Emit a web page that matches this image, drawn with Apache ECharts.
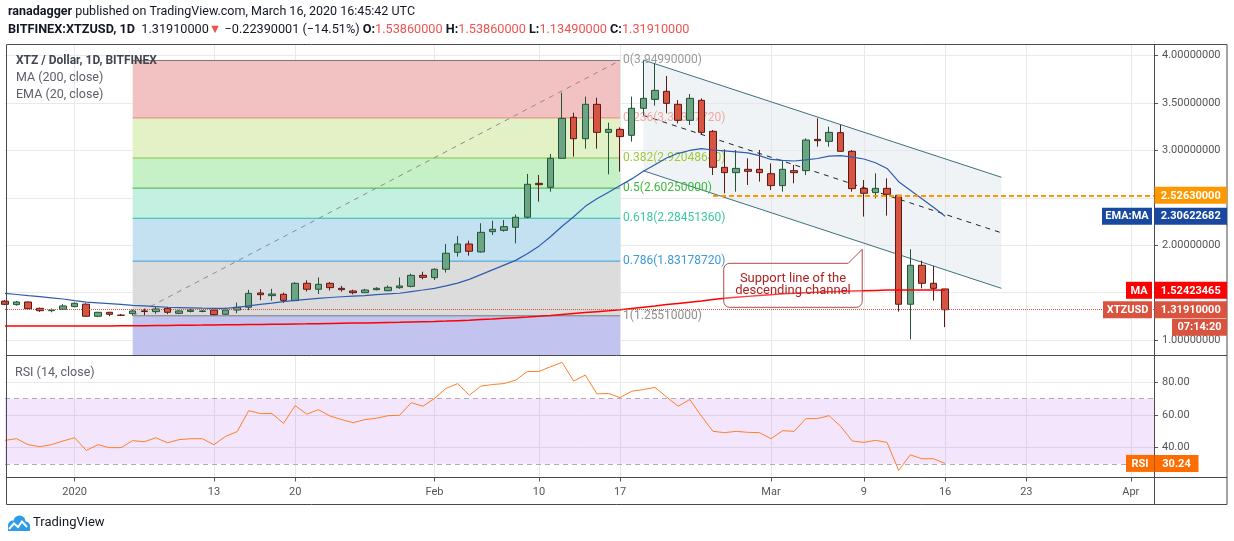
<!DOCTYPE html>
<html>
<head>
<meta charset="utf-8">
<title>XTZ / Dollar, 1D, BITFINEX</title>
<script src="https://cdn.jsdelivr.net/npm/echarts@6.0.0/dist/echarts.min.js"></script>
<style>
  html, body { margin: 0; padding: 0; background: #ffffff; }
  #chart { width: 1234px; height: 541px; }
</style>
</head>
<body>
<div id="chart"></div>
<script>
const FONT = 'Roboto, "Liberation Sans", Arial, sans-serif';

// one category per day, Dec 26 2019 .. Apr 3 2020
const dates = [];
for (let i = 0; i < 100; i++) {
  dates.push(new Date(Date.UTC(2019, 11, 26 + i)).toISOString().slice(0, 10));
}
const tickDates = ['2020-01-01', '2020-01-13', '2020-01-20', '2020-02-01', '2020-02-10', '2020-02-17',
  '2020-03-01', '2020-03-09', '2020-03-16', '2020-03-23', '2020-04-01'];
const tickTexts = ['2020', '13', '20', 'Feb', '10', '17', 'Mar', '9', '16', '23', 'Apr'];

// [open, close, low, high], Dec 26 .. Mar 16
const candles = [
  [1.410, 1.376, 1.368, 1.420], [1.373, 1.401, 1.362, 1.412], [1.401, 1.330, 1.325, 1.406],
  [1.334, 1.309, 1.296, 1.342], [1.309, 1.316, 1.292, 1.333], [1.323, 1.359, 1.316, 1.378],
  [1.352, 1.387, 1.345, 1.396], [1.378, 1.250, 1.246, 1.386], [1.250, 1.292, 1.241, 1.296],
  [1.292, 1.271, 1.250, 1.296], [1.262, 1.260, 1.255, 1.275], [1.278, 1.306, 1.258, 1.320],
  [1.306, 1.300, 1.262, 1.330], [1.299, 1.327, 1.275, 1.350], [1.334, 1.292, 1.272, 1.350],
  [1.281, 1.306, 1.272, 1.315], [1.301, 1.316, 1.290, 1.330], [1.301, 1.306, 1.292, 1.316],
  [1.316, 1.267, 1.262, 1.320], [1.271, 1.316, 1.265, 1.340], [1.316, 1.345, 1.282, 1.395],
  [1.345, 1.492, 1.315, 1.530], [1.496, 1.478, 1.420, 1.535], [1.468, 1.485, 1.415, 1.540],
  [1.482, 1.418, 1.392, 1.500], [1.415, 1.598, 1.410, 1.610], [1.598, 1.535, 1.512, 1.630],
  [1.535, 1.587, 1.485, 1.660], [1.598, 1.552, 1.522, 1.612], [1.545, 1.531, 1.510, 1.570],
  [1.517, 1.499, 1.482, 1.530], [1.499, 1.527, 1.495, 1.540], [1.531, 1.545, 1.522, 1.556],
  [1.520, 1.556, 1.515, 1.575], [1.552, 1.570, 1.540, 1.660], [1.566, 1.682, 1.555, 1.700],
  [1.682, 1.661, 1.640, 1.720], [1.658, 1.746, 1.633, 1.756], [1.746, 1.915, 1.711, 2.013],
  [1.925, 2.013, 1.879, 2.098], [2.013, 1.936, 1.890, 2.048], [1.929, 2.136, 1.922, 2.231],
  [2.143, 2.168, 2.108, 2.259], [2.157, 2.196, 2.143, 2.266], [2.189, 2.295, 2.020, 2.323],
  [2.295, 2.643, 2.284, 2.752], [2.653, 2.639, 2.460, 2.741], [2.611, 2.917, 2.565, 2.963],
  [2.917, 3.339, 2.917, 3.610], [3.350, 3.124, 2.935, 3.399], [3.124, 3.487, 3.019, 3.568],
  [3.487, 3.191, 3.019, 3.557], [3.191, 3.223, 2.748, 3.293], [3.223, 3.146, 2.776, 3.244],
  [3.160, 3.445, 3.093, 3.568], [3.445, 3.550, 3.374, 3.950], [3.539, 3.634, 3.473, 3.919],
  [3.624, 3.497, 3.392, 3.786], [3.487, 3.318, 3.286, 3.532], [3.318, 3.550, 3.269, 3.596],
  [3.529, 3.191, 3.163, 3.550], [3.202, 2.822, 2.741, 3.216], [2.822, 2.766, 2.548, 3.012],
  [2.766, 2.811, 2.565, 3.005], [2.801, 2.780, 2.636, 2.917], [2.801, 2.766, 2.671, 3.005],
  [2.755, 2.629, 2.583, 2.864], [2.629, 2.801, 2.565, 2.899], [2.787, 2.766, 2.653, 2.847],
  [2.787, 3.110, 2.741, 3.128], [3.117, 3.103, 3.040, 3.339], [3.096, 3.191, 3.040, 3.251],
  [3.188, 2.991, 2.987, 3.269], [2.991, 2.597, 2.565, 3.005], [2.600, 2.548, 2.302, 2.688],
  [2.555, 2.600, 2.495, 2.759], [2.600, 2.537, 2.312, 2.706], [2.527, 1.377, 1.299, 2.527],
  [1.377, 1.788, 1.007, 1.957], [1.788, 1.598, 1.545, 1.837], [1.598, 1.545, 1.415, 1.781],
  [1.5386, 1.3191, 1.1349, 1.5386]
];

const ma200 = [
  1.148, 1.148, 1.148, 1.148, 1.148, 1.148, 1.148, 1.148, 1.148, 1.148,
  1.149, 1.150, 1.151, 1.152, 1.153, 1.155, 1.156, 1.157, 1.159, 1.160,
  1.161, 1.163, 1.164, 1.166, 1.167, 1.169, 1.170, 1.172, 1.174, 1.176,
  1.178, 1.180, 1.182, 1.184, 1.186, 1.189, 1.192, 1.195, 1.199, 1.204,
  1.209, 1.215, 1.221, 1.228, 1.235, 1.242, 1.250, 1.259, 1.269, 1.279,
  1.289, 1.299, 1.309, 1.320, 1.333, 1.346, 1.359, 1.373, 1.386, 1.399,
  1.412, 1.426, 1.440, 1.450, 1.460, 1.469, 1.478, 1.487, 1.494, 1.499,
  1.504, 1.508, 1.512, 1.516, 1.520, 1.523, 1.526, 1.528, 1.528, 1.527,
  1.526, 1.524
];

const ema20 = [
  1.492, 1.480, 1.468, 1.457, 1.445, 1.432, 1.415, 1.400, 1.392, 1.384,
  1.375, 1.366, 1.359, 1.352, 1.345, 1.342, 1.339, 1.336, 1.334, 1.334,
  1.343, 1.360, 1.375, 1.389, 1.405, 1.418, 1.428, 1.438, 1.448, 1.456,
  1.462, 1.468, 1.478, 1.487, 1.493, 1.511, 1.527, 1.545, 1.570, 1.600,
  1.640, 1.690, 1.740, 1.790, 1.840, 1.910, 1.990, 2.090, 2.200, 2.300,
  2.410, 2.490, 2.560, 2.630, 2.700, 2.780, 2.850, 2.920, 2.970, 3.000,
  3.020, 3.005, 2.995, 2.985, 2.975, 2.945, 2.905, 2.895, 2.889, 2.900,
  2.915, 2.940, 2.945, 2.930, 2.910, 2.870, 2.810, 2.670, 2.580, 2.490,
  2.400, 2.306
];

const rsi14 = [
  44.4, 45.4, 41.7, 40.5, 41.7, 44.0, 46.0, 38.2, 41.7, 39.9,
  39.9, 44.2, 43.5, 46.0, 42.9, 44.8, 45.4, 45.4, 41.7, 46.8,
  49.7, 62.6, 60.8, 60.8, 54.8, 65.7, 60.4, 63.2, 59.3, 57.1,
  55.2, 57.1, 57.9, 59.5, 59.7, 67.5, 65.3, 70.0, 76.2, 79.2,
  72.1, 77.6, 78.6, 79.2, 81.3, 86.6, 86.6, 89.5, 92.2, 80.7,
  84.4, 72.9, 73.1, 70.6, 74.5, 75.5, 76.8, 71.0, 65.3, 69.4,
  59.3, 49.9, 49.1, 49.9, 49.3, 49.1, 45.4, 50.3, 49.9, 57.7,
  57.7, 59.5, 53.0, 44.0, 43.1, 44.4, 43.1, 25.9, 35.5, 33.1,
  33.1, 30.24
];

const priceTicks = [1, 1.5, 2, 2.5, 3, 3.5, 4];
const priceLabels = [1, 2, 3, 3.5, 4];
const rsiTicks = [40, 60, 80];
const rsiBand = [30, 70];
const priceMin = 0.836, priceMax = 4.113;
const rsiMin = 21.6, rsiMax = 96.4;

const lastPrice = 1.3191;
const lastMa = 1.52423465;
const lastEma = 2.30622682;
const lastRsi = 30.24;
const level = 2.5263;
const levelFrom = '2020-02-25';

// fibonacci retracement
const fibFrom = '2020-01-06', fibTo = '2020-02-17';
const fibRatios = ['0', '0.236', '0.382', '0.5', '0.618', '0.786', '1'];
const fibPrices = [3.9499, 3.3432772, 2.9204864, 2.6025, 2.2845136, 1.8317872, 1.2551];
const fibLine = ['#787878', '#e58a78', '#8bc34a', '#43b143', '#26c0a0', '#3a99d8', '#787878'];
const fibFill = ['#f2c2c2', '#e3f1c7', '#c6f0c6', '#c4f0e1', '#c4e1f2', '#dcdcdc', '#c3c3ef'];
const fibText = ['#9a9a9a', '#f0a8a0', '#9ccc3c', '#3cb93c', '#3ccaa0', '#3d9ad8', '#8e8e8e'];

// descending channel: [category index, price]
const channelStart = 55;
const channelEnd = 85.85;
const channelTop = [3.955, 2.717];
const channelBottom = [2.786, 1.545];

// callout top-right corner [category index, price]
const calloutAt = [73.86, 1.809];

const chart = echarts.init(document.getElementById('chart'));

const isTick = (i, v) => tickDates.indexOf(v) >= 0;
const gridLine = '#e9e9e9';
const fibFromIdx = dates.indexOf(fibFrom);
const fibToIdx = dates.indexOf(fibTo);

// category coords are rounded by the scale, so interpolate between neighbours
function coordAt(api, idx, v) {
  const i0 = Math.floor(idx), f = idx - i0;
  const a = api.coord([i0, v]);
  const b = api.coord([i0 + 1, v]);
  return [a[0] + f * (b[0] - a[0]), a[1]];
}

function renderFib(params, api) {
  const k = params.dataIndex;
  const top = fibPrices[k];
  const bottom = k + 1 < fibPrices.length ? fibPrices[k + 1] : priceMin;
  const a = api.coord([fibFromIdx, top]);
  const b = api.coord([fibToIdx, bottom]);
  const children = [
    { type: 'rect', shape: { x: a[0], y: a[1], width: b[0] - a[0], height: b[1] - a[1] }, style: { fill: fibFill[k] } },
    { type: 'line', shape: { x1: a[0], y1: a[1], x2: b[0], y2: a[1] }, style: { stroke: fibLine[k], lineWidth: 1 } },
    {
      type: 'text',
      style: {
        text: fibRatios[k] + '(' + top.toFixed(8) + ')', x: b[0] + 3, y: a[1],
        fill: fibText[k], font: '12px ' + FONT, textVerticalAlign: 'middle'
      }
    }
  ];
  if (k === fibPrices.length - 1) {
    // the trend line of the retracement, low to high
    const f0 = api.coord([fibFromIdx, fibPrices[k]]);
    const f1 = api.coord([fibToIdx, fibPrices[0]]);
    children.push({
      type: 'line', shape: { x1: f0[0], y1: f0[1], x2: f1[0], y2: f1[1] },
      style: { stroke: '#8c8c8c', lineWidth: 1, lineDash: [5, 5] }
    });
  }
  return { type: 'group', children };
}

function renderChannel(params, api) {
  const t0 = coordAt(api, channelStart, channelTop[0]);
  const t1 = coordAt(api, channelEnd, channelTop[1]);
  const b0 = coordAt(api, channelStart, channelBottom[0]);
  const b1 = coordAt(api, channelEnd, channelBottom[1]);
  const m0 = [t0[0], (t0[1] + b0[1]) / 2];
  const m1 = [t1[0], (t1[1] + b1[1]) / 2];
  return {
    type: 'group',
    children: [
      { type: 'polygon', shape: { points: [t0, t1, b1, b0] }, style: { fill: 'rgba(226,231,238,0.5)' } },
      { type: 'line', shape: { x1: t0[0], y1: t0[1], x2: t1[0], y2: t1[1] }, style: { stroke: '#3b6f7e', lineWidth: 1 } },
      { type: 'line', shape: { x1: b0[0], y1: b0[1], x2: b1[0], y2: b1[1] }, style: { stroke: '#3b6f7e', lineWidth: 1 } },
      { type: 'line', shape: { x1: m0[0], y1: m0[1], x2: m1[0], y2: m1[1] }, style: { stroke: '#222', lineWidth: 1, lineDash: [5, 5] } }
    ]
  };
}

const option = {
  animation: false,
  grid: [
    { left: 5, right: 80, top: 45, height: 310.5 },
    { left: 5, right: 80, top: 355.5, height: 122 }
  ],
  xAxis: [
    {
      type: 'category', gridIndex: 0, data: dates, boundaryGap: false,
      axisLine: { show: false }, axisTick: { show: false }, axisLabel: { show: false },
      splitLine: { show: true, interval: isTick, lineStyle: { color: gridLine } }
    },
    {
      type: 'category', gridIndex: 1, data: dates, boundaryGap: false,
      axisLine: { show: false },
      axisTick: { show: true, interval: isTick, length: 4, lineStyle: { color: '#555' } },
      axisLabel: {
        interval: isTick, formatter: v => tickTexts[tickDates.indexOf(v)],
        color: '#555', fontSize: 11, fontFamily: FONT, margin: 9
      },
      splitLine: { show: true, interval: isTick, lineStyle: { color: gridLine } }
    }
  ],
  yAxis: [
    {
      type: 'value', gridIndex: 0, position: 'right', min: priceMin, max: priceMax,
      axisLine: { show: false },
      axisTick: { show: true, customValues: priceTicks, length: 4, lineStyle: { color: '#555' } },
      axisLabel: {
        customValues: priceLabels, formatter: v => v.toFixed(8),
        color: '#555', fontSize: 11, fontFamily: FONT, margin: 8
      },
      splitLine: { show: true, lineStyle: { color: gridLine } }
    },
    {
      type: 'value', gridIndex: 1, position: 'right', min: rsiMin, max: rsiMax,
      axisLine: { show: false },
      axisTick: { show: true, customValues: rsiTicks, length: 4, lineStyle: { color: '#555' } },
      axisLabel: {
        customValues: rsiTicks, formatter: v => v.toFixed(2),
        color: '#555', fontSize: 11, fontFamily: FONT, margin: 8
      },
      splitLine: { show: true, lineStyle: { color: gridLine } }
    }
  ],
  series: [
    {
      name: 'channel', type: 'custom', xAxisIndex: 0, yAxisIndex: 0, z: 1, silent: true,
      data: [[0]], renderItem: renderChannel
    },
    {
      name: 'fib', type: 'custom', xAxisIndex: 0, yAxisIndex: 0, z: 1, silent: true,
      data: fibRatios.map((r, k) => [k]), renderItem: renderFib
    },
    {
      name: 'XTZUSD', type: 'candlestick', xAxisIndex: 0, yAxisIndex: 0, z: 3,
      barWidth: 7, data: candles, silent: true,
      itemStyle: { color: '#6ba583', color0: '#d75442', borderColor: '#225437', borderColor0: '#5b1a13', borderWidth: 1 },
      markLine: {
        silent: true, symbol: ['none', 'none'], label: { show: false },
        data: [
          { yAxis: lastPrice, lineStyle: { color: '#d9533f', type: 'dotted', width: 1 } },
          [
            { coord: [levelFrom, level], lineStyle: { color: '#ff9800', type: [5, 3], width: 2 } },
            { coord: [dates.length - 1, level], lineStyle: { color: '#ff9800', type: [5, 3], width: 2 } }
          ]
        ]
      }
    },
    {
      name: 'MA', type: 'line', xAxisIndex: 0, yAxisIndex: 0, z: 4, data: ma200,
      symbol: 'none', silent: true, lineStyle: { color: '#ff0000', width: 1.5 }
    },
    {
      name: 'EMA', type: 'line', xAxisIndex: 0, yAxisIndex: 0, z: 4, data: ema20,
      symbol: 'none', silent: true, lineStyle: { color: '#2e5db0', width: 1.2 }
    },
    {
      name: 'RSI', type: 'line', xAxisIndex: 1, yAxisIndex: 1, z: 4, data: rsi14,
      symbol: 'none', silent: true, lineStyle: { color: '#ff7f27', width: 1 },
      markArea: {
        silent: true,
        itemStyle: { color: 'rgba(155,38,230,0.12)' },
        data: [[{ yAxis: rsiBand[0] }, { yAxis: rsiBand[1] }]]
      },
      markLine: {
        silent: true, symbol: ['none', 'none'], label: { show: false },
        lineStyle: { color: '#b5a8bb', type: [5, 4], width: 1 },
        data: [{ yAxis: rsiBand[0] }, { yAxis: rsiBand[1] }]
      }
    }
  ]
};

chart.setOption(option);

// ---- overlays: frame, texts, price tags, callout ----
const W = chart.getWidth();
const axisX = W - 80 + 0.5;
const yP = v => chart.convertToPixel({ yAxisIndex: 0 }, v);
const yR = v => chart.convertToPixel({ yAxisIndex: 1 }, v);
function px(idx, v) {
  const i0 = Math.floor(idx), f = idx - i0;
  const a = chart.convertToPixel({ gridIndex: 0 }, [i0, v]);
  const b = chart.convertToPixel({ gridIndex: 0 }, [i0 + 1, v]);
  return [a[0] + f * (b[0] - a[0]), a[1]];
}

function txt(text, x, y, font, fill, align) {
  return {
    type: 'text', z: 100, silent: true,
    style: { text, x, y, font, fill, textAlign: align || 'left', textVerticalAlign: 'middle' }
  };
}
function box(x, y, w, text, color) {
  return [
    { type: 'rect', z: 100, silent: true, shape: { x, y: y - 8.5, width: w, height: 17 }, style: { fill: color } },
    txt(text, x + w / 2, y + 0.5, 'bold 11px ' + FONT, '#ffffff', 'center')
  ];
}
// quarter circle points for rounded corners
function arc(cx, cy, r, a0, a1) {
  const pts = [];
  for (let s = 0; s <= 4; s++) {
    const a = a0 + (a1 - a0) * s / 4;
    pts.push([cx + r * Math.cos(a), cy + r * Math.sin(a)]);
  }
  return pts;
}

const priceTags = [
  { value: level, text: '2.52630000', color: '#ff9800' },
  { value: lastEma, text: '2.30622682', color: '#1848a0', name: 'EMA:MA', nameWidth: 50 },
  { value: lastMa, text: '1.52423465', color: '#ff0000', name: 'MA', nameWidth: 26 },
  { value: lastPrice, text: '1.31910000', color: '#d9533f', name: 'XTZUSD', nameWidth: 49, sub: '07:14:20' }
];

const graphics = [];
const line = (x1, y1, x2, y2) => ({
  type: 'line', z: 100, silent: true, shape: { x1, y1, x2, y2 }, style: { stroke: '#4a4a4a', lineWidth: 1 }
});
graphics.push({
  type: 'rect', z: 100, silent: true, shape: { x: 6.5, y: 44.5, width: 1220.5, height: 460 },
  style: { fill: null, stroke: '#4a4a4a', lineWidth: 1 }
});
graphics.push(line(6.5, 355.5, 1227, 355.5));
graphics.push(line(6.5, 477.5, 1227, 477.5));
graphics.push(line(axisX, 44.5, axisX, 504.5));

priceTags.forEach(t => {
  const y = yP(t.value);
  graphics.push(...box(axisX, y, 72.5, t.text, t.color));
  if (t.name) graphics.push(...box(axisX - 2.5 - t.nameWidth, y, t.nameWidth, t.name, t.color));
  if (t.sub) graphics.push(...box(axisX + 17.5, y + 17.5, 55, t.sub, t.color));
});
const ry = yR(lastRsi);
graphics.push(...box(axisX, ry, 44, lastRsi.toFixed(2), '#ff6d00'));
graphics.push(...box(axisX - 28.5, ry, 28, 'RSI', '#ff6d00'));

// header
graphics.push({
  type: 'text', z: 100, silent: true,
  style: {
    x: 8, y: 12, textVerticalAlign: 'middle',
    text: '{b|ranadagger}{n| published on TradingView.com, March 16, 2020 16:45:42 UTC}',
    rich: {
      b: { fontWeight: 'bold', fontSize: 12.5, fontFamily: FONT, fill: '#131722' },
      n: { fontSize: 12.5, fontFamily: FONT, fill: '#131722' }
    }
  }
});
graphics.push({
  type: 'text', z: 100, silent: true,
  style: {
    x: 8, y: 30, textVerticalAlign: 'middle',
    text: '{b|BITFINEX:XTZUSD, 1D}{n|  1.31910000}{r|▼}{n| −0.22390001 (−14.51%) }' +
      '{b|O:}{r|1.53860000}{n| }{b|H:}{r|1.53860000}{n| }{b|L:}{r|1.13490000}{n| }{b|C:}{r|1.31910000}',
    rich: {
      b: { fontWeight: 'bold', fontSize: 12.7, fontFamily: FONT, fill: '#131722' },
      n: { fontSize: 12.7, fontFamily: FONT, fill: '#131722' },
      r: { fontSize: 12.7, fontFamily: FONT, fill: '#ef5350' }
    }
  }
});

// pane legends
graphics.push(txt('XTZ / Dollar, 1D, BITFINEX', 16, 60.5, 'bold 12px ' + FONT, '#434651'));
graphics.push(txt('MA (200, close)', 16, 77.5, '12.5px ' + FONT, '#5d606b'));
graphics.push(txt('EMA (20, close)', 16, 94.5, '12.5px ' + FONT, '#5d606b'));
graphics.push(txt('RSI (14, close)', 15, 373, '12.5px ' + FONT, '#5d606b'));

// callout
const c = px(calloutAt[0], calloutAt[1]);
const x1 = c[0], y0 = c[1], x0 = x1 - 138.5, y1 = y0 + 44, r = 6;
const H = Math.PI / 2;
const callout = [[x0 + r, y0], [x1 - 14, y0], [x1, y0 - 14]]
  .concat(arc(x1 - r, y1 - r, r, 0, H))
  .concat(arc(x0 + r, y1 - r, r, H, 2 * H))
  .concat(arc(x0 + r, y0 + r, r, 2 * H, 3 * H));
graphics.push({
  type: 'polygon', z: 100, silent: true, shape: { points: callout },
  style: { fill: 'rgba(255,255,255,0.25)', stroke: '#b24646', lineWidth: 1 }
});
graphics.push(txt('Support line of the', (x0 + x1) / 2, y0 + 15.5, '13px ' + FONT, '#b22222', 'center'));
graphics.push(txt('descending channel', (x0 + x1) / 2, y0 + 27, '13px ' + FONT, '#b22222', 'center'));

// TradingView mark
const logoBlue = '#2f9ce8';
graphics.push({ type: 'circle', z: 100, silent: true, shape: { cx: 13, cy: 525.5, r: 5 }, style: { fill: logoBlue } });
graphics.push({ type: 'circle', z: 100, silent: true, shape: { cx: 19.5, cy: 521.5, r: 6 }, style: { fill: logoBlue } });
graphics.push({ type: 'circle', z: 100, silent: true, shape: { cx: 25.5, cy: 526, r: 4.5 }, style: { fill: logoBlue } });
graphics.push({ type: 'rect', z: 100, silent: true, shape: { x: 8, y: 525, width: 22, height: 6 }, style: { fill: logoBlue } });
graphics.push({
  type: 'polyline', z: 101, silent: true,
  shape: { points: [[9, 529], [14, 523.5], [18, 527], [22, 521.5], [27, 527]] },
  style: { stroke: '#ffffff', lineWidth: 2, fill: null }
});
graphics.push(txt('TradingView', 33, 523, '13px ' + FONT, '#131722'));

chart.setOption({ graphic: graphics });
</script>
</body>
</html>
